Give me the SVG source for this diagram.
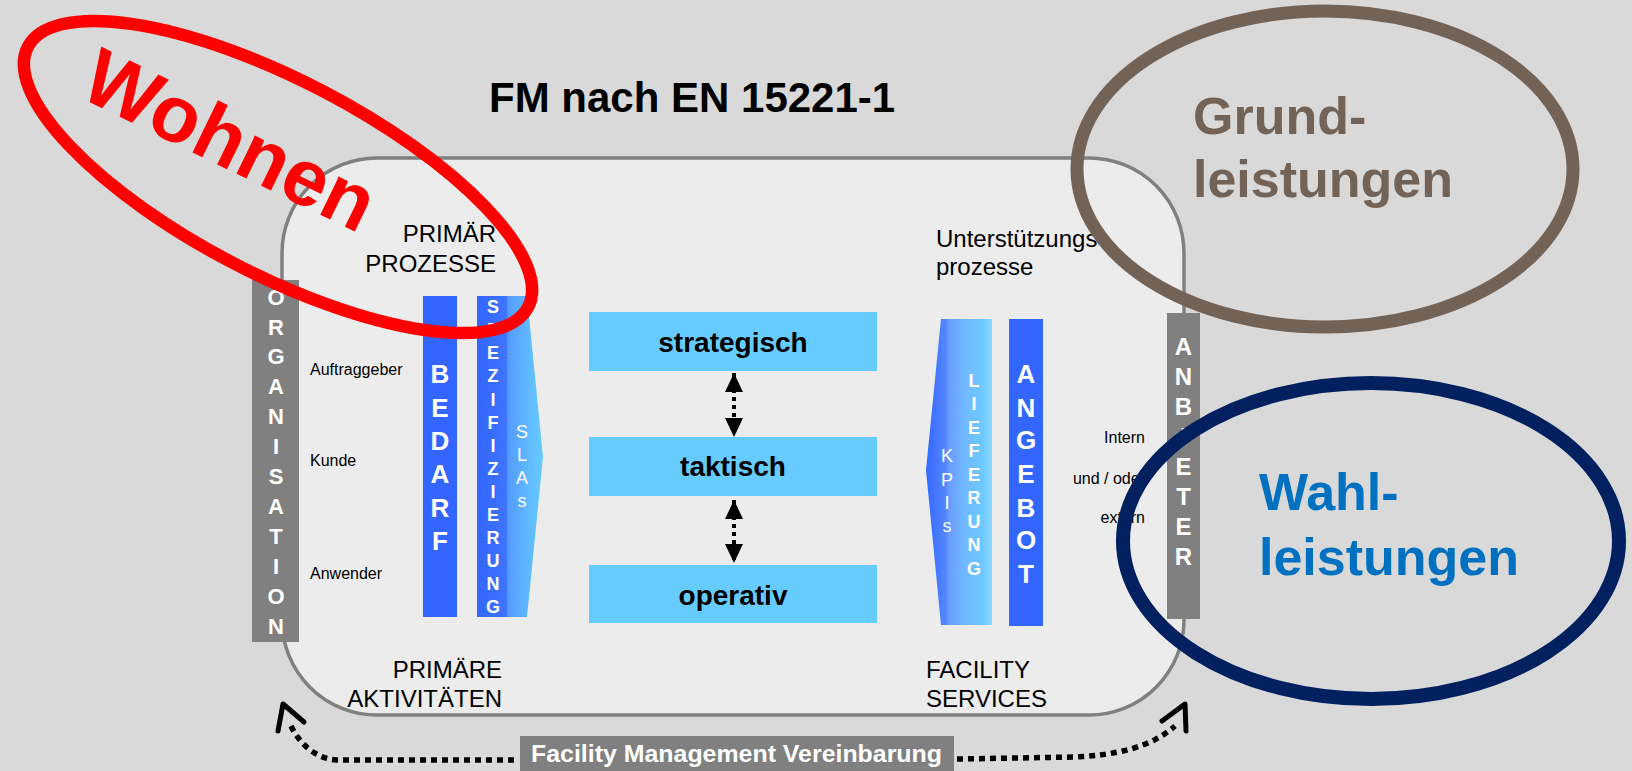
<svg xmlns="http://www.w3.org/2000/svg" width="1632" height="771" viewBox="0 0 1632 771">
<style>
text{font-family:"Liberation Sans",Arial,sans-serif}
.lbl{font-size:24px;fill:#000}
.sm{font-size:16px;fill:#000}
.bar{fill:#808080}
.blue{fill:#3366ff}
.lv{fill:#66ccff}
.vw{fill:#fff;font-weight:bold;text-anchor:middle}
.vt{fill:#fff;text-anchor:middle;font-size:18px}
.lvt{font-size:28px;font-weight:bold;text-anchor:middle;fill:#000}
.dot{fill:none;stroke:#000;stroke-width:4;stroke-dasharray:4 4}
.dot2{fill:none;stroke:#000;stroke-width:5.5;stroke-dasharray:6 5}
.ah{fill:none;stroke:#000;stroke-width:5;stroke-linecap:round;stroke-linejoin:round}
.ring{fill:none}
</style>
<defs>
<marker id="tri" viewBox="0 0 19 18" refX="19" refY="9" markerWidth="19" markerHeight="18" markerUnits="userSpaceOnUse" orient="auto-start-reverse">
<path d="M0,0 L19,9 L0,18 z" fill="#000"/>
</marker>
<linearGradient id="gSpez" gradientUnits="userSpaceOnUse" x1="477" y1="0" x2="543" y2="0">
<stop offset="0" stop-color="#3366ff"/>
<stop offset="0.44" stop-color="#3d74ff"/>
<stop offset="0.48" stop-color="#559cff"/>
<stop offset="0.75" stop-color="#5fb6ff"/>
<stop offset="1" stop-color="#66ccff"/>
</linearGradient>
<linearGradient id="gLief" gradientUnits="userSpaceOnUse" x1="926" y1="0" x2="992" y2="0">
<stop offset="0" stop-color="#3366ff"/>
<stop offset="0.3" stop-color="#5588ff"/>
<stop offset="0.35" stop-color="#6a9cff"/>
<stop offset="0.6" stop-color="#70baff"/>
<stop offset="0.85" stop-color="#6cc8ff"/>
<stop offset="1" stop-color="#8cd6ff"/>
</linearGradient>
</defs>
<rect x="0" y="0" width="1632" height="771" fill="#d9d9d9"/>

<g id="frame">
<rect x="282" y="158" width="902" height="557" rx="95" ry="95" fill="#ececec" stroke="#808080" stroke-width="3.5"/>
</g>

<g id="title">
<text x="489" y="112" style="font-size:42px;font-weight:bold">FM nach EN 15221-1</text>
</g>

<g id="labels">
<text class="lbl" x="496" y="242" text-anchor="end">PRIMÄR</text>
<text class="lbl" x="496" y="272" text-anchor="end">PROZESSE</text>
<text class="lbl" x="936" y="247">Unterstützungs</text>
<text class="lbl" x="936" y="275">prozesse</text>
<text class="lbl" x="502" y="678" text-anchor="end">PRIMÄRE</text>
<text class="lbl" x="502" y="707" text-anchor="end">AKTIVITÄTEN</text>
<text class="lbl" x="926" y="678">FACILITY</text>
<text class="lbl" x="926" y="707">SERVICES</text>
<text class="sm" x="310" y="375">Auftraggeber</text>
<text class="sm" x="310" y="466">Kunde</text>
<text class="sm" x="310" y="579">Anwender</text>
<text class="sm" x="1145" y="443" text-anchor="end">Intern</text>
<text class="sm" x="1145" y="484" text-anchor="end">und / oder</text>
<text class="sm" x="1145" y="523" text-anchor="end">extern</text>
</g>

<g id="organisation">
<rect class="bar" x="252" y="280" width="47" height="362"/>
<text class="vw" style="font-size:22px">
<tspan x="276" y="305">O</tspan><tspan x="276" y="335">R</tspan><tspan x="276" y="364">G</tspan><tspan x="276" y="394">A</tspan><tspan x="276" y="424">N</tspan><tspan x="276" y="454">I</tspan><tspan x="276" y="484">S</tspan><tspan x="276" y="514">A</tspan><tspan x="276" y="544">T</tspan><tspan x="276" y="574">I</tspan><tspan x="276" y="604">O</tspan><tspan x="276" y="634">N</tspan>
</text>
</g>

<g id="bedarf">
<rect class="blue" x="423" y="296" width="34" height="321"/>
<text class="vw" style="font-size:26px">
<tspan x="440" y="383">B</tspan><tspan x="440" y="417">E</tspan><tspan x="440" y="450">D</tspan><tspan x="440" y="483">A</tspan><tspan x="440" y="517">R</tspan><tspan x="440" y="550">F</tspan>
</text>
</g>

<g id="spezifizierung">
<polygon points="477,296 527,296 543,457 527,617 477,617" fill="url(#gSpez)"/>
<text class="vw" style="font-size:18px">
<tspan x="493" y="313">S</tspan><tspan x="493" y="336">P</tspan><tspan x="493" y="359">E</tspan><tspan x="493" y="382">Z</tspan><tspan x="493" y="406">I</tspan><tspan x="493" y="429">F</tspan><tspan x="493" y="452">I</tspan><tspan x="493" y="475">Z</tspan><tspan x="493" y="498">I</tspan><tspan x="493" y="521">E</tspan><tspan x="493" y="544">R</tspan><tspan x="493" y="567">U</tspan><tspan x="493" y="590">N</tspan><tspan x="493" y="613">G</tspan>
</text>
<text class="vt">
<tspan x="522" y="438">S</tspan><tspan x="522" y="461">L</tspan><tspan x="522" y="484">A</tspan><tspan x="522" y="507">s</tspan>
</text>
</g>

<g id="strategisch">
<rect class="lv" x="589" y="312" width="288" height="59"/>
<text class="lvt" x="733" y="352">strategisch</text>
</g>
<g id="taktisch">
<rect class="lv" x="589" y="437" width="288" height="59"/>
<text class="lvt" x="733" y="476">taktisch</text>
</g>
<g id="operativ">
<rect class="lv" x="589" y="565" width="288" height="58"/>
<text class="lvt" x="733" y="605">operativ</text>
</g>

<g id="lieferung">
<polygon points="941,319 992,319 992,625 941,625 926,470" fill="url(#gLief)"/>
<text class="vt">
<tspan x="947" y="462">K</tspan><tspan x="947" y="486">P</tspan><tspan x="947" y="509">I</tspan><tspan x="947" y="532">s</tspan>
</text>
<text class="vw" style="font-size:18px">
<tspan x="974" y="387">L</tspan><tspan x="974" y="410">I</tspan><tspan x="974" y="434">E</tspan><tspan x="974" y="457">F</tspan><tspan x="974" y="481">E</tspan><tspan x="974" y="504">R</tspan><tspan x="974" y="528">U</tspan><tspan x="974" y="551">N</tspan><tspan x="974" y="575">G</tspan>
</text>
</g>

<g id="angebot">
<rect class="blue" x="1009" y="319" width="34" height="307"/>
<text class="vw" style="font-size:26px">
<tspan x="1026" y="383">A</tspan><tspan x="1026" y="417">N</tspan><tspan x="1026" y="449">G</tspan><tspan x="1026" y="483">E</tspan><tspan x="1026" y="517">B</tspan><tspan x="1026" y="549">O</tspan><tspan x="1026" y="583">T</tspan>
</text>
</g>

<g id="anbieter">
<rect class="bar" x="1167" y="313" width="33" height="306"/>
<text class="vw" style="font-size:24px">
<tspan x="1183.5" y="355">A</tspan><tspan x="1183.5" y="385">N</tspan><tspan x="1183.5" y="415">B</tspan><tspan x="1183.5" y="445">I</tspan><tspan x="1183.5" y="475">E</tspan><tspan x="1183.5" y="505">T</tspan><tspan x="1183.5" y="535">E</tspan><tspan x="1183.5" y="565">R</tspan>
</text>
</g>

<g id="vereinbarung">
<rect class="bar" x="520" y="736" width="434" height="35"/>
<text x="531" y="762" textLength="411" lengthAdjust="spacingAndGlyphs" style="font-size:24px;font-weight:bold;fill:#fff">Facility Management Vereinbarung</text>
</g>

<g id="connectors">
<line class="dot" x1="734" y1="373" x2="734" y2="437" marker-start="url(#tri)" marker-end="url(#tri)"/>
<line class="dot" x1="734" y1="500" x2="734" y2="563" marker-start="url(#tri)" marker-end="url(#tri)"/>
<path class="dot2" d="M514,760 L337,760 C318,759 300,746 290,724"/>
<path class="ah" d="M278,731 L283,704 L304,722"/>
<path class="dot2" d="M957,759 L1075,757 C1115,755 1150,748 1175,726"/>
<path class="ah" d="M1186,731 L1185,704 L1162,721"/>
</g>

<g id="wohnen">
<ellipse class="ring" cx="278" cy="177" rx="282" ry="97" transform="rotate(27.5 278 177)" stroke="#ff0000" stroke-width="12.5"/>
<text transform="translate(77 96) rotate(26)" x="0" y="0" style="font-size:80px;font-weight:bold;fill:#ff0000">Wohnen</text>
</g>

<g id="grundleistungen">
<ellipse class="ring" cx="1325" cy="169" rx="248" ry="158" stroke="#736357" stroke-width="13"/>
<text x="1193" y="134" style="font-size:52px;font-weight:bold;fill:#736357">Grund-</text>
<text x="1193" y="197" style="font-size:52px;font-weight:bold;fill:#736357">leistungen</text>
</g>

<g id="wahlleistungen">
<ellipse class="ring" cx="1371" cy="541" rx="248" ry="158" stroke="#002060" stroke-width="14"/>
<text x="1259" y="510" style="font-size:52px;font-weight:bold;fill:#0070c0">Wahl-</text>
<text x="1259" y="575" style="font-size:52px;font-weight:bold;fill:#0070c0">leistungen</text>
</g>
</svg>
